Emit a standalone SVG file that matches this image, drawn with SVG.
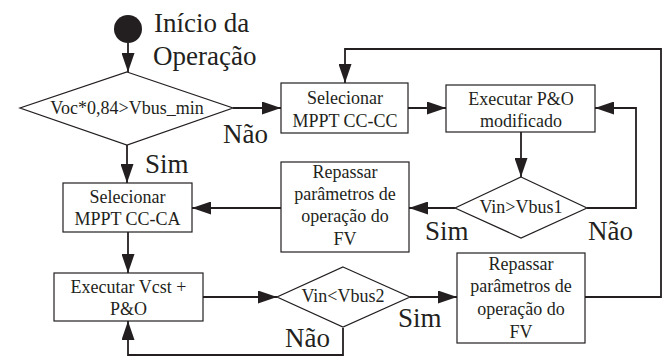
<svg xmlns="http://www.w3.org/2000/svg" width="670" height="358" viewBox="0 0 670 358">
<style>
.box{fill:#fff;stroke:#231f20;stroke-width:1.2}
text{font-family:'Liberation Serif','Times New Roman',serif;fill:#231f20}
.t{font-size:18px;text-anchor:middle}
.lab{font-size:27px}
.c{fill:none;stroke:#231f20;stroke-width:1.8}
</style>
<defs>
<marker id="ah" markerUnits="userSpaceOnUse" markerWidth="19" markerHeight="13" refX="19" refY="6.5" orient="auto">
<path d="M0,0 L19,6.5 L0,13 z" fill="#231f20"/>
</marker>
</defs>
<rect width="670" height="358" fill="#fff"/>
<g id="connectors">
<path class="c" d="M128,43 L128,72" marker-end="url(#ah)"/>
<path class="c" d="M233,108 L281,108" marker-end="url(#ah)"/>
<path class="c" d="M127,145 L127,183" marker-end="url(#ah)"/>
<path class="c" d="M128,232 L128,273" marker-end="url(#ah)"/>
<path class="c" d="M408,108 L446,108" marker-end="url(#ah)"/>
<path class="c" d="M521,132 L521,177" marker-end="url(#ah)"/>
<path class="c" d="M587,208 L636,208 L636,108 L595,108" marker-end="url(#ah)"/>
<path class="c" d="M455,208 L409,208" marker-end="url(#ah)"/>
<path class="c" d="M281,208 L192,208" marker-end="url(#ah)"/>
<path class="c" d="M203,297 L277,297" marker-end="url(#ah)"/>
<path class="c" d="M410,297 L457,297" marker-end="url(#ah)"/>
<path class="c" d="M343,328 L343,355 L128,355 L128,321" marker-end="url(#ah)"/>
<path class="c" d="M585,297 L661,297 L661,49 L345,49 L345,83" marker-end="url(#ah)"/>
</g>
<g id="start">
<circle cx="128" cy="29" r="14" fill="#231f20"/>
<text class="lab" x="154" y="32">Início da</text>
<text class="lab" x="153" y="65">Operação</text>
</g>
<g id="d1">
<polygon class="box" points="127,72 233,108 127,145 20,108"/>
<text class="t" x="127" y="114">Voc*0,84&gt;Vbus_min</text>
</g>
<g id="b1">
<rect class="box" x="281" y="83" width="127" height="50"/>
<text class="t" x="345" y="104">Selecionar</text>
<text class="t" x="345" y="127">MPPT CC-CC</text>
</g>
<g id="b3">
<rect class="box" x="446" y="85" width="149" height="47"/>
<text class="t" x="521" y="105">Executar P&amp;O</text>
<text class="t" x="521" y="127">modificado</text>
</g>
<g id="d3">
<polygon class="box" points="521,177 587,208 521,238 455,208"/>
<text class="t" x="521" y="213">Vin&gt;Vbus1</text>
</g>
<g id="b5">
<rect class="box" x="281" y="162" width="128" height="90"/>
<text class="t" x="345" y="178">Repassar</text>
<text class="t" x="345" y="200">parâmetros de</text>
<text class="t" x="345" y="222">operação do</text>
<text class="t" x="345" y="245">FV</text>
</g>
<g id="b2">
<rect class="box" x="63" y="183" width="129" height="49"/>
<text class="t" x="127.5" y="203">Selecionar</text>
<text class="t" x="127.5" y="225">MPPT CC-CA</text>
</g>
<g id="b4">
<rect class="box" x="54" y="273" width="149" height="48"/>
<text class="t" x="128.5" y="293">Executar Vcst +</text>
<text class="t" x="128.5" y="315">P&amp;O</text>
</g>
<g id="d2">
<polygon class="box" points="343,267 410,297 343,327 277,297"/>
<text class="t" x="343" y="302">Vin&lt;Vbus2</text>
</g>
<g id="b6">
<rect class="box" x="457" y="253" width="128" height="90"/>
<text class="t" x="521" y="270">Repassar</text>
<text class="t" x="521" y="292">parâmetros de</text>
<text class="t" x="521" y="315">operação do</text>
<text class="t" x="521" y="338">FV</text>
</g>
<g id="labels">
<text class="lab" x="223" y="143">Não</text>
<text class="lab" x="145" y="173">Sim</text>
<text class="lab" x="425" y="240">Sim</text>
<text class="lab" x="588" y="240">Não</text>
<text class="lab" x="398" y="327">Sim</text>
<text class="lab" x="285" y="347">Não</text>
</g>
</svg>
